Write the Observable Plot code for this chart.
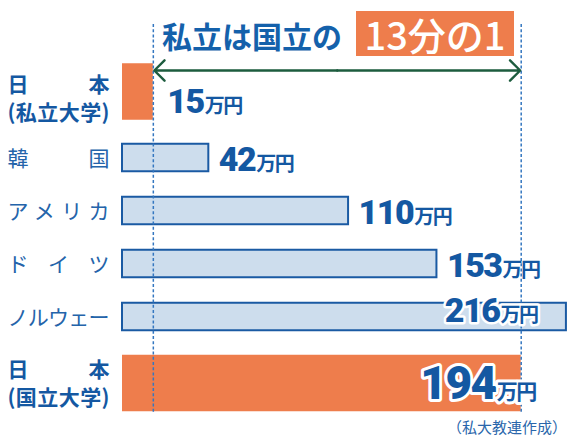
<!DOCTYPE html>
<html><head><meta charset="utf-8">
<script src="https://cdn.jsdelivr.net/npm/d3@7"></script>
<script src="https://cdn.jsdelivr.net/npm/@observablehq/plot@0.6"></script>
<style>
body{margin:0;background:#fff;}
#wrap{position:relative;width:569px;height:438px;overflow:hidden;font-family:"Noto Sans CJK JP",sans-serif;}
#title{position:absolute;left:162px;top:20px;font-size:30px;font-weight:700;color:#1461ab;line-height:1;white-space:nowrap;}
#badge{position:absolute;left:356px;top:11px;width:158px;height:45px;background:#ee7d4c;color:#fff;font-size:38px;font-weight:500;line-height:45px;text-align:center;white-space:nowrap;}
#caption{position:absolute;right:2px;top:419px;font-size:15px;color:#2a66ab;line-height:1;white-space:nowrap;}
</style></head>
<body><div id="wrap"><div id="chart"></div><div id="title"></div><div id="badge"></div><div id="caption"></div></div>
<script>
const categories = ["日本（私立大学）", "韓国", "アメリカ", "ドイツ", "ノルウェー", "日本（国立大学）"];
const rowLabels = ["日本\n(私立大学)", "韓国", "アメリカ", "ドイツ", "ノルウェー", "日本\n(国立大学)"];
const values = [15, 42, 110, 153, 216, 194];
const unit = "万円";
const titleText = "私立は国立の";
const badgeText = "13分の1";
const captionText = "（私大教連作成）";

document.getElementById("title").textContent = titleText;
document.getElementById("badge").textContent = badgeText;
document.getElementById("caption").textContent = captionText;

const rows = categories.map((c, i) => ({cat: c, label: rowLabels[i], value: values[i]}));
const priv = [rows[0]];
const others = rows.slice(1, 5);
const outside = rows.slice(1, 4);
const norway = [rows[4]];
const nat = [rows[5]];

// double-headed comparison arrow between the two Japanese values
const mid = (values[0] + values[5]) / 2;
const arrowHalves = [
  {x1: mid, x2: values[0], y: categories[0]},
  {x1: mid, x2: values[5], y: categories[0]}
];

const BLUE = "#1a5aa3", TXT = "#1458a2", ORANGE = "#ee7d4c", LIGHT = "#cddded";
const numFont = "Roboto, 'Liberation Sans', sans-serif";

const plot = Plot.plot({
  width: 569, height: 438,
  marginLeft: 122, marginRight: 0, marginTop: 24, marginBottom: 25,
  x: {axis: null, domain: [0, 217.5]},
  y: {axis: null, domain: categories, padding: 0, insetTop: 52.75, insetBottom: 15.25},
  marks: [
    Plot.barX(others, {x: "value", y: "cat", fill: LIGHT, stroke: BLUE, strokeWidth: 2, insetTop: 12.75, insetBottom: 12.75}),
    Plot.barX(priv, {x: "value", y: "cat", fill: ORANGE, insetTop: -1.75, insetBottom: -1.75, dy: -13}),
    Plot.barX(nat, {x: "value", y: "cat", fill: ORANGE, insetTop: -1.75, insetBottom: -1.75, dy: 13.5}),
    Plot.ruleX([values[0], values[5]], {stroke: "#3477c0", strokeWidth: 1.5, strokeDasharray: "3,2.2"}),
    Plot.arrow(arrowHalves, {x1: "x1", x2: "x2", y1: "y", y2: "y", dy: -34.5, stroke: "#1d5c3e", strokeWidth: 2.4, headLength: 9, headAngle: 90, insetStart: 0, insetEnd: 1}),
    // row labels
    Plot.text(others, {y: "cat", text: "label", frameAnchor: "left", dx: -115, dy: 1, textAnchor: "start", fill: "#2464aa", fontSize: 21, fontFamily: "'Noto Sans CJK JP'", ariaDescription: "rowlabel"}),
    Plot.text(priv, {y: "cat", text: "label", frameAnchor: "left", dx: -115, dy: -7.75, lineHeight: 1.3, textAnchor: "start", fill: TXT, fontSize: 21, fontWeight: 700, fontFamily: "'Noto Sans CJK JP'", ariaDescription: "rowlabel"}),
    Plot.text(nat, {y: "cat", text: "label", frameAnchor: "left", dx: -115, dy: 11.75, lineHeight: 1.35, textAnchor: "start", fill: TXT, fontSize: 21, fontWeight: 700, fontFamily: "'Noto Sans CJK JP'", ariaDescription: "rowlabel"}),
    // value labels
    Plot.text(outside, {x: "value", y: "cat", text: d => String(d.value), dx: 10, dy: 2, textAnchor: "start", fill: TXT, fontSize: 34, fontWeight: 900, fontFamily: numFont, ariaDescription: "value"}),
    Plot.text(priv, {x: "value", y: "cat", text: d => String(d.value), dx: 14, dy: -3, textAnchor: "start", fill: TXT, fontSize: 34, fontWeight: 900, fontFamily: numFont, ariaDescription: "value"}),
    Plot.text(norway, {x: "value", y: "cat", text: d => String(d.value), dx: -29, dy: -6, textAnchor: "end", fill: TXT, stroke: "white", strokeWidth: 5, fontSize: 34, fontWeight: 900, fontFamily: numFont, ariaDescription: "value"}),
    Plot.text(nat, {x: "value", y: "cat", text: d => String(d.value), dx: 14.5, dy: 14.5, textAnchor: "end", fill: TXT, stroke: "white", strokeWidth: 6, fontSize: 46, fontWeight: 900, fontFamily: numFont, ariaDescription: "bigvalue"})
  ]
});
document.getElementById("chart").appendChild(plot);

// justify row labels across the label column
plot.querySelectorAll('g[aria-description="rowlabel"] text').forEach(t => {
  const spans = t.querySelectorAll("tspan");
  const targets = spans.length ? Array.from(spans) : [t];
  targets.forEach(s => { s.setAttribute("textLength", 102); s.setAttribute("lengthAdjust", "spacing"); });
});
// append the unit in a smaller size
function addUnit(sel, size) {
  plot.querySelectorAll(sel).forEach(t => {
    const ts = document.createElementNS("http://www.w3.org/2000/svg", "tspan");
    ts.textContent = unit;
    ts.setAttribute("font-size", size);
    ts.setAttribute("font-weight", 700);
    ts.setAttribute("font-family", "'Noto Sans CJK JP'");
    ts.setAttribute("dx", 1);
    t.appendChild(ts);
  });
}
plot.querySelectorAll('g[aria-description="value"] text, g[aria-description="bigvalue"] text').forEach(t => t.setAttribute("letter-spacing", -1.5));
addUnit('g[aria-description="value"] text', 20);
addUnit('g[aria-description="bigvalue"] text', 21);
</script></body></html>
